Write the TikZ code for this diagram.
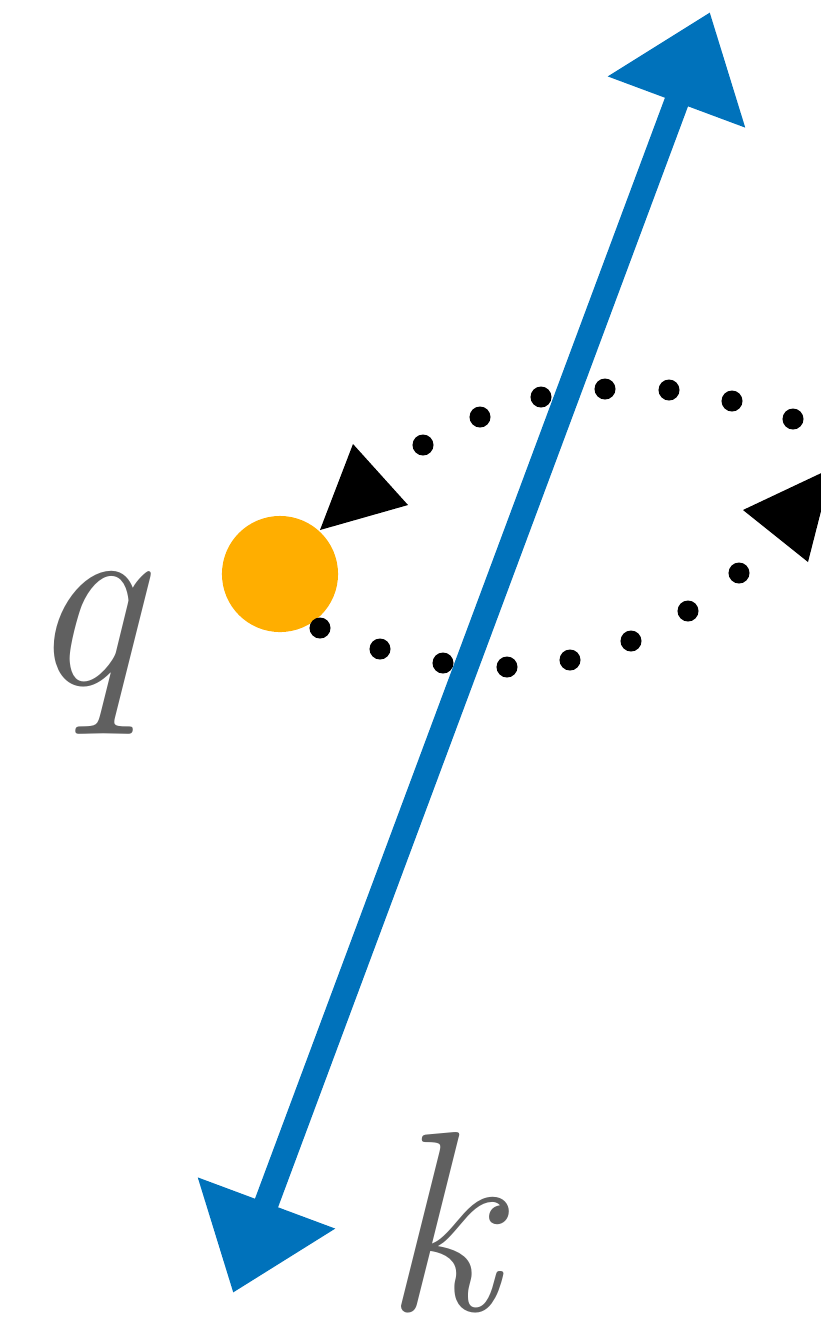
\documentclass[tikz,border=0pt]{standalone}
\usetikzlibrary{arrows.meta}
\definecolor{axisblue}{RGB}{0,114,187}
\definecolor{chargeorange}{RGB}{255,174,0}
\definecolor{labelgray}{RGB}{96,96,96}

\begin{document}
\begin{tikzpicture}[x=0.01cm,y=-0.01cm,
  axis/.style={line width=7pt,draw=axisblue,
               {Triangle[length=9.6mm,width=14mm]}-{Triangle[length=9.6mm,width=14mm]}},
  charge/.style={circle,fill=chargeorange,minimum size=11.6mm,inner sep=0pt},
  lbl/.style={text=labelgray,font=\fontsize{73}{80}\selectfont\itshape,
              inner sep=0pt,anchor=base}]
  \useasboundingbox (0,0) rectangle (820,1329);
  % wave vector
  \coordinate (kend) at (233,1293);
  \coordinate (ktip) at (710,12);
  \draw[axis] (kend) -- (ktip);
  % charge
  \node[charge] (Q) at (280,574) {};
  \node[lbl] (qlabel) at (84,684) {q};
  \node[lbl] (klabel) at (440,1310) {k};
  % dotted orbit
  \foreach \x/\y in {423/445,480/417,541/397,605/389,669/390,732/401,793/419,
                     320/628,380/649,443/663,507/667,570/660,631/641,688/611,739/573}
    \fill (\x,\y) circle[radius=1.05mm];
  \fill (353,444) -- (408,505) -- (320,530) -- cycle;
  \fill (743,510) -- (808,562) -- (832,468) -- cycle;
\end{tikzpicture}
\end{document}
